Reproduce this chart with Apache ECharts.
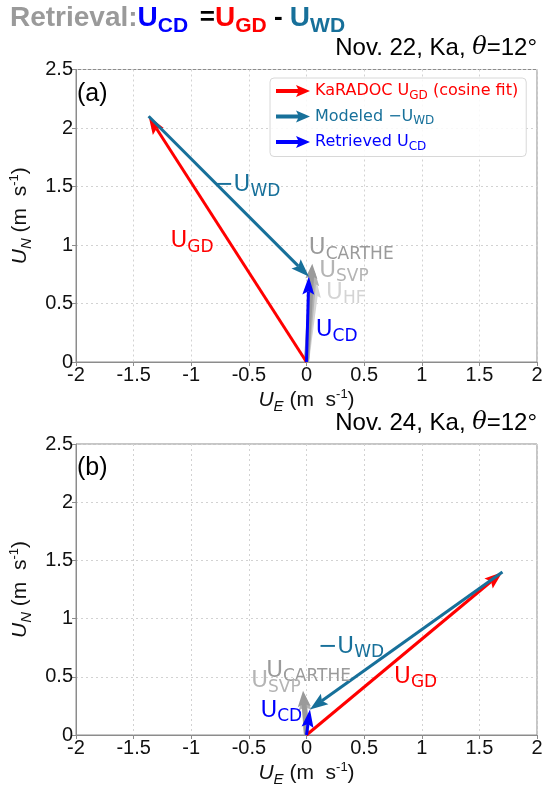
<!DOCTYPE html>
<html><head><meta charset="utf-8">
<script src="https://cdn.jsdelivr.net/npm/echarts@6/dist/echarts.min.js"></script>
<style>html,body{margin:0;padding:0;background:#fff}#c{width:549px;height:788px}</style>
</head><body><div id="c"></div>
<script>
// ---- axes ----
const xTicks = [-2, -1.5, -1, -0.5, 0, 0.5, 1, 1.5, 2];
const yTicks = [0, 0.5, 1, 1.5, 2, 2.5];
const panelTitles = ['Nov. 22, Ka, ', 'Nov. 24, Ka, '];
const panelTags = ['(a)', '(b)'];
// ---- vectors (U_E, U_N) in m/s ----
// panel (a) Nov. 22
const ugdA = [-1.37, 2.10];   // KaRADOC U_GD
const ucdA = [0.02, 0.73];    // retrieved U_CD  (= U_GD - U_WD)
const cartheA = [0.05, 0.84];
const svpA = [0.07, 0.78];
const hfA = [0.09, 0.68];
// panel (b) Nov. 24
const ugdB = [1.70, 1.40];
const ucdB = [0.03, 0.22];
const cartheB = [-0.03, 0.38];
const svpB = [-0.02, 0.35];
// ---- annotation anchors (data coords) ----
const annTextsA = ['−U|WD', 'U|GD', 'U|CARTHE', 'U|SVP', 'U|HF', 'U|CD'];
const annPosA = [[-0.80, 1.51], [-1.18, 1.03], [0.02, 0.97], [0.11, 0.78], [0.17, 0.59], [0.08, 0.27]];
const annTextsB = ['−U|WD', 'U|GD', 'U|CARTHE', 'U|SVP', 'U|CD'];
const annPosB = [[0.10, 0.76], [0.76, 0.50], [-0.35, 0.55], [-0.48, 0.46], [-0.40, 0.21]];

const RED = '#ff0000', TEAL = '#17709a', BLUE = '#0000ff';
const GRAY1 = '#9a9a9a', GRAY2 = '#b4b4b4', GRAY3 = '#d4d4d4';
const annColorsA = [TEAL, RED, GRAY1, GRAY2, GRAY3, BLUE];
const annColorsB = [TEAL, RED, GRAY1, GRAY2, BLUE];

const NAME_GD = 'KaRADOC U_GD (cosine fit)';
const NAME_WD = 'Modeled −U_WD';
const NAME_CD = 'Retrieved U_CD';

function arrowItem(shaftW, headL, headW) {
  return function (params, api) {
    const p0 = api.coord([api.value(0), api.value(1)]);
    const p1 = api.coord([api.value(2), api.value(3)]);
    const dx = p1[0] - p0[0], dy = p1[1] - p0[1];
    const len = Math.hypot(dx, dy) || 1;
    const ux = dx / len, uy = dy / len, nx = -uy, ny = ux;
    const back = [p1[0] - ux * headL, p1[1] - uy * headL];
    const notch = [p1[0] - ux * headL * 0.82, p1[1] - uy * headL * 0.82];
    const w1 = [back[0] + nx * headW / 2, back[1] + ny * headW / 2];
    const w2 = [back[0] - nx * headW / 2, back[1] - ny * headW / 2];
    const color = api.visual('color');
    return {
      type: 'group', children: [
        { type: 'line', shape: { x1: p0[0], y1: p0[1], x2: notch[0], y2: notch[1] }, style: { stroke: color, lineWidth: shaftW } },
        { type: 'polygon', shape: { points: [p1, w1, notch, w2] }, style: { fill: color } }
      ]
    };
  };
}

function annRender(texts, colors) {
  return function (params, api) {
    const p = api.coord([api.value(0), api.value(1)]);
    const parts = texts[params.dataIndex].split('|');
    return {
      type: 'text', x: p[0], y: p[1],
      style: {
        text: '{u|' + parts[0] + '}{s|' + parts[1] + '}',
        fill: colors[params.dataIndex],
        align: 'left', verticalAlign: 'middle',
        rich: {
          u: { fontSize: 23, fontFamily: 'DejaVu Sans' },
          s: { fontSize: 17, fontFamily: 'DejaVu Sans', padding: [12, 0, 0, 0] }
        }
      }
    };
  };
}

function vec(from, to) { return [from[0], from[1], to[0], to[1]]; }
const O = [0, 0];

const axisLabelStyle = { fontSize: 20, color: '#111', fontFamily: 'Liberation Sans' };
const nameRich = {
  i: { fontSize: 21, fontStyle: 'italic', fontFamily: 'Liberation Sans', color: '#111' },
  is: { fontSize: 15, fontStyle: 'italic', fontFamily: 'Liberation Sans', color: '#111', padding: [12, 0, 0, 0] },
  n: { fontSize: 21, fontFamily: 'Liberation Sans', color: '#111' },
  p: { fontSize: 13, fontFamily: 'Liberation Sans', color: '#111', padding: [0, 0, 12, 0] }
};

function xAx(gi) {
  return {
    gridIndex: gi, type: 'value', min: xTicks[0], max: xTicks[xTicks.length - 1], interval: xTicks[1] - xTicks[0],
    axisLine: { onZero: false, lineStyle: { color: '#8c8c8c' } },
    axisTick: { length: 4, lineStyle: { color: '#8c8c8c' } },
    axisLabel: Object.assign({ margin: 3 }, axisLabelStyle),
    splitLine: { show: true, lineStyle: { color: '#d2d2d2', type: [2, 3] } },
    name: '{i|U}{is|E}{n| (m  s}{p|-1}{n|)}', nameLocation: 'middle', nameGap: 25,
    nameTextStyle: { rich: nameRich }
  };
}
function yAx(gi) {
  return {
    gridIndex: gi, type: 'value', min: yTicks[0], max: yTicks[yTicks.length - 1], interval: yTicks[1] - yTicks[0],
    axisLine: { onZero: false, lineStyle: { color: '#8c8c8c' } },
    axisTick: { length: 4, lineStyle: { color: '#8c8c8c' } },
    axisLabel: Object.assign({ margin: 3 }, axisLabelStyle),
    splitLine: { show: true, lineStyle: { color: '#d2d2d2', type: [2, 3] } },
    name: '{i|U}{is|N}{n| (m  s}{p|-1}{n|)}', nameLocation: 'middle', nameGap: 42,
    nameTextStyle: { rich: nameRich }
  };
}

function arrowSeries(name, gi, data, color, sw, hl, hw, z) {
  return {
    type: 'custom', name: name, xAxisIndex: gi, yAxisIndex: gi, z: z,
    itemStyle: { color: color },
    encode: { x: [0, 2], y: [1, 3] },
    renderItem: arrowItem(sw, hl, hw),
    data: data, silent: true
  };
}

const series = [
  {
    type: 'custom', name: 'drifters A', xAxisIndex: 0, yAxisIndex: 0, z: 1,
    encode: { x: [0, 2], y: [1, 3] }, renderItem: arrowItem(5, 15, 12),
    data: [
      { value: vec(O, hfA), itemStyle: { color: GRAY3 } },
      { value: vec(O, svpA), itemStyle: { color: GRAY2 } },
      { value: vec(O, cartheA), itemStyle: { color: GRAY1 } }
    ]
  },
  {
    type: 'custom', name: 'drifters B', xAxisIndex: 1, yAxisIndex: 1, z: 1,
    encode: { x: [0, 2], y: [1, 3] }, renderItem: arrowItem(5, 16, 13),
    data: [
      { value: vec(O, svpB), itemStyle: { color: GRAY2 } },
      { value: vec(O, cartheB), itemStyle: { color: GRAY1 } }
    ]
  },
  arrowSeries(NAME_GD, 0, [vec(O, ugdA)], RED, 3, 18, 13, 2),
  arrowSeries(NAME_WD, 0, [vec(ugdA, ucdA)], TEAL, 3, 18, 13, 3),
  arrowSeries(NAME_CD, 0, [vec(O, ucdA)], BLUE, 3, 18, 12, 4),
  arrowSeries(NAME_GD, 1, [vec(O, ugdB)], RED, 3, 18, 13, 2),
  arrowSeries(NAME_WD, 1, [vec(ugdB, ucdB)], TEAL, 3, 18, 13, 3),
  arrowSeries(NAME_CD, 1, [vec(O, ucdB)], BLUE, 3, 18, 12, 4),
  {
    type: 'custom', name: 'annA', xAxisIndex: 0, yAxisIndex: 0, z: 5,
    renderItem: annRender(annTextsA, annColorsA), data: annPosA, silent: true
  },
  {
    type: 'custom', name: 'annB', xAxisIndex: 1, yAxisIndex: 1, z: 5,
    renderItem: annRender(annTextsB, annColorsB), data: annPosB, silent: true
  }
];

const legendRich = {
  n: { fontSize: 16, fontFamily: 'DejaVu Sans' },
  s: { fontSize: 12, fontFamily: 'DejaVu Sans', padding: [9, 0, 0, 0] }
};
const legendLabels = {};
legendLabels[NAME_GD] = '{n|KaRADOC U}{s|GD}{n| (cosine fit)}';
legendLabels[NAME_WD] = '{n|Modeled −U}{s|WD}';
legendLabels[NAME_CD] = '{n|Retrieved U}{s|CD}';
const arrowIcon = 'path://M0,4 L22,4 L20,0 L34,6 L20,12 L22,8 L0,8 Z';

const titleRich = {
  g: { fontSize: 28, fontWeight: 'bold', fontFamily: 'Liberation Sans', fill: '#9a9a9a' },
  bU: { fontSize: 28, fontWeight: 'bold', fontFamily: 'Liberation Sans', fill: BLUE },
  bS: { fontSize: 21, fontWeight: 'bold', fontFamily: 'Liberation Sans', fill: BLUE, padding: [16, 0, 0, 0] },
  rU: { fontSize: 28, fontWeight: 'bold', fontFamily: 'Liberation Sans', fill: RED },
  rS: { fontSize: 21, fontWeight: 'bold', fontFamily: 'Liberation Sans', fill: RED, padding: [16, 0, 0, 0] },
  tU: { fontSize: 28, fontWeight: 'bold', fontFamily: 'Liberation Sans', fill: TEAL },
  tS: { fontSize: 21, fontWeight: 'bold', fontFamily: 'Liberation Sans', fill: TEAL, padding: [16, 0, 0, 0] },
  k: { fontSize: 26, fontWeight: 'bold', fontFamily: 'Liberation Sans', fill: '#000' },
  sp: { fontSize: 14, fontFamily: 'Liberation Sans' }
};
const dateRich = {
  n: { fontSize: 24, fontFamily: 'Liberation Sans', fill: '#000' },
  th: { fontSize: 24, fontStyle: 'italic', fontFamily: 'DejaVu Serif', fill: '#000' }
};

const option = {
  animation: false,
  backgroundColor: '#fff',
  grid: [
    { left: 70, top: 69.5, width: 467, height: 292.5, show: true, borderColor: '#8c8c8c', borderWidth: 1 },
    { left: 70, top: 444, width: 467, height: 293, show: true, borderColor: '#8c8c8c', borderWidth: 1 }
  ],
  xAxis: [xAx(0), xAx(1)],
  yAxis: [yAx(0), yAx(1)],
  legend: {
    left: 270, top: 78, orient: 'vertical', itemGap: 7,
    itemWidth: 34, itemHeight: 12,
    padding: [5, 8, 4, 6],
    borderColor: '#d8d8d8', borderWidth: 1, borderRadius: 4, backgroundColor: 'rgba(255,255,255,0.85)',
    selectedMode: false,
    data: [
      { name: NAME_GD, icon: arrowIcon, textStyle: { color: RED, rich: legendRich } },
      { name: NAME_WD, icon: arrowIcon, textStyle: { color: TEAL, rich: legendRich } },
      { name: NAME_CD, icon: arrowIcon, textStyle: { color: BLUE, rich: legendRich } }
    ],
    formatter: function (n) { return legendLabels[n]; },
    textStyle: { rich: legendRich }
  },
  graphic: [
    {
      type: 'text', left: 10, top: 4,
      style: { text: '{g|Retrieval:}{bU|U}{bS|CD}{sp|   }{k|=}{rU|U}{rS|GD}{k| - }{tU|U}{tS|WD}', rich: titleRich }
    },
    {
      type: 'text', right: 12, top: 36,
      style: { text: '{n|' + panelTitles[0] + '}{th|θ}{n|=12°}', rich: dateRich }
    },
    {
      type: 'text', right: 12, top: 411,
      style: { text: '{n|' + panelTitles[1] + '}{th|θ}{n|=12°}', rich: dateRich }
    },
    { type: 'text', left: 77, top: 82, style: { text: panelTags[0], fontSize: 25, fontFamily: 'Liberation Sans', fill: '#000' } },
    { type: 'text', left: 77, top: 456, style: { text: panelTags[1], fontSize: 25, fontFamily: 'Liberation Sans', fill: '#000' } }
  ],
  series: series
};

const chart = echarts.init(document.getElementById('c'), null, { renderer: 'canvas' });
chart.setOption(option);
</script>
</body></html>
